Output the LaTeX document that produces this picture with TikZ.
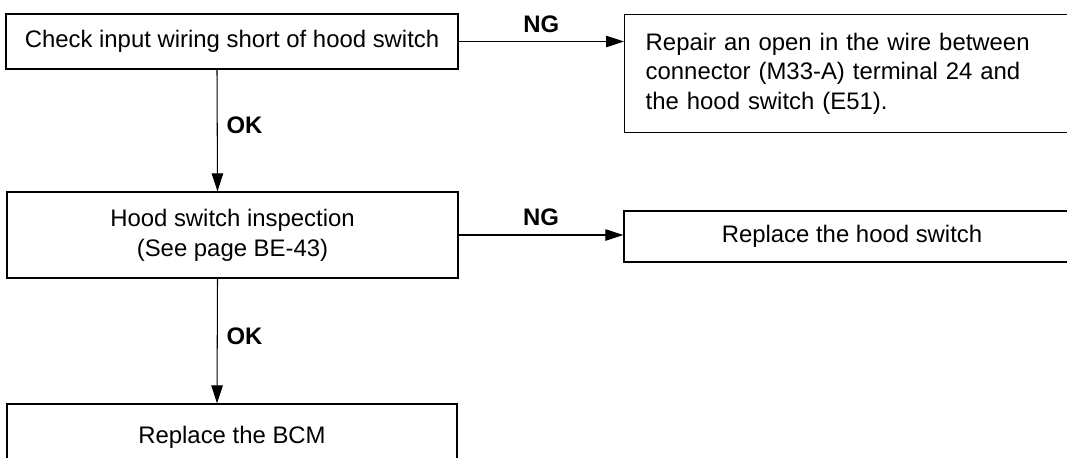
\documentclass[tikz,border=0pt]{standalone}
\usepackage{fontspec}
\setmainfont{Liberation Sans}
\usepackage{tikz}
\usetikzlibrary{arrows.meta}

\begin{document}
\begin{tikzpicture}[x=1cm, y=1cm, font=\fontsize{13.6}{17}\selectfont,
  box/.style={draw, line width=0.8pt, inner sep=0pt, align=center},
  flow/.style={line width=0.6pt, -{Triangle[length=3.6mm, width=2.3mm]}},
  tag/.style={font=\fontsize{13.6}{17}\selectfont\bfseries}]
\path[use as bounding box, fill=white] (0,0) rectangle (21.34,-9.14);
% left column
\node[box, minimum width=9.04cm, minimum height=1.10cm] (chk) at (4.64,-0.83)
   {Check input wiring short of hood switch};
\node[box, minimum width=9.02cm, minimum height=1.72cm] (insp) at (4.65,-4.70)
   {Hood switch inspection\\(See page BE-43)};
\node[box, minimum width=9.00cm, minimum height=1.32cm] (bcm) at (4.64,-8.74)
   {Replace the BCM};
% right column (runs past the page edge)
\node[box, anchor=north west, text width=8.28cm, inner xsep=0.42cm,
   minimum height=2.36cm, align=left] (repair) at (12.48,-0.28)
   {Repair an open in the wire between\\connector (M33-A) terminal 24 and\\the hood switch (E51).};
\node[box, minimum width=9.12cm, minimum height=1.02cm] (hswitch) at (17.04,-4.73)
   {Replace the hood switch};
% NG branches
\draw[flow] (chk.east) -- (chk.east -| repair.west)
   node[tag, midway, above=1.5pt] {NG};
\draw[flow] (insp.east) -- (insp.east -| hswitch.west)
   node[tag, midway, above=1.5pt] {NG};
% OK branches
\draw[flow] ([xshift=-0.3cm]chk.south) -- ([xshift=-0.3cm]insp.north)
   node[tag, midway, right=1.7pt, yshift=1mm] {OK};
\draw[flow] ([xshift=-0.3cm]insp.south) -- ([xshift=-0.3cm]bcm.north)
   node[tag, midway, right=1.7pt, yshift=1mm] {OK};
\end{tikzpicture}
\end{document}
